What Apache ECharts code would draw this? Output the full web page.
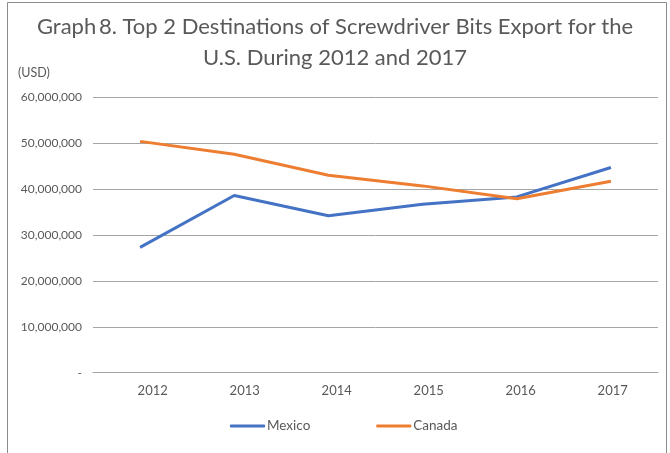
<!DOCTYPE html>
<html>
<head>
<meta charset="utf-8">
<script src="https://cdn.jsdelivr.net/npm/echarts@6/dist/echarts.min.js"></script>
<style>html,body{margin:0;padding:0;background:#fff}#c{width:670px;height:453px}</style>
</head>
<body>
<div id="c"></div>
<script>
const years = ['2012','2013','2014','2015','2016','2017'];
const mexico = [27300000, 38600000, 34200000, 36700000, 38300000, 44700000];
const canada = [50400000, 47600000, 43000000, 40700000, 37900000, 41700000];
const yTicks = [0, 10000000, 20000000, 30000000, 40000000, 50000000, 60000000];

const chart = echarts.init(document.getElementById('c'), null, {renderer:'canvas'});
const font = 'Lato, "Open Sans", sans-serif';
const fmt = v => v === 0 ? '-' : v.toLocaleString('en-US');
chart.setOption({
  animation: false,
  backgroundColor: '#fff',
  title: {
    text: 'Graph\u20098. Top 2 Destinations of Screwdriver Bits Export for the\nU.S. During 2012 and 2017',
    left: 'center', top: 6,
    textStyle: {fontFamily: font, fontSize: 22, fontWeight: 'normal', color: '#595959', lineHeight: 31}
  },
  graphic: [
    {type:'rect', shape:{x:7.5,y:2.5,width:659,height:470}, style:{fill:'none', stroke:'#8c8c8c', lineWidth:1}, silent:true},
    {type:'text', left:18, top:66, style:{text:'(USD)', fontFamily:font, fontSize:12.5, fill:'#595959'}}
  ],
  legend: {
    bottom: 15, left: 225,
    itemWidth: 35, itemHeight: 3, itemGap: 66,
    icon: 'roundRect',
    textStyle: {fontFamily: font, fontSize: 13.5, color: '#595959', padding:[0,0,0,-3]},
    data: ['Mexico','Canada']
  },
  grid: [
    {left: 93, right: 12, top: 97.3, bottom: 80.3},
    {left: 106.7, right: 11.3, top: 97.3, bottom: 80.3}
  ],
  xAxis: [
    {type:'category', gridIndex:0, data: years, boundaryGap: true,
     axisLine:{lineStyle:{color:'#a6a6a6', width:1}}, axisTick:{show:false}, axisLabel:{show:false}},
    {type:'category', gridIndex:1, data: years, boundaryGap: true,
     axisLine:{show:false}, axisTick:{show:false},
     axisLabel:{fontFamily:font, fontSize:13, color:'#595959', margin:12}}
  ],
  yAxis: [
    {type:'value', gridIndex:0, min:0, max:60000000, interval:10000000,
     axisLine:{show:false}, axisTick:{show:false},
     splitLine:{lineStyle:{color:'#a6a6a6', width:1}},
     axisLabel:{fontFamily:font, fontSize:12, color:'#595959', margin:11, formatter: fmt}},
    {type:'value', gridIndex:1, min:0, max:60000000, show:false, splitLine:{show:false}}
  ],
  series: [
    {name:'Mexico', type:'line', xAxisIndex:0, yAxisIndex:0, data: mexico, symbol:'none',
     lineStyle:{color:'#4472C4', width:3}, itemStyle:{color:'#4472C4'}},
    {name:'Canada', type:'line', xAxisIndex:0, yAxisIndex:0, data: canada, symbol:'none',
     lineStyle:{color:'#ED7D31', width:3}, itemStyle:{color:'#ED7D31'}}
  ]
});
</script>
</body>
</html>
